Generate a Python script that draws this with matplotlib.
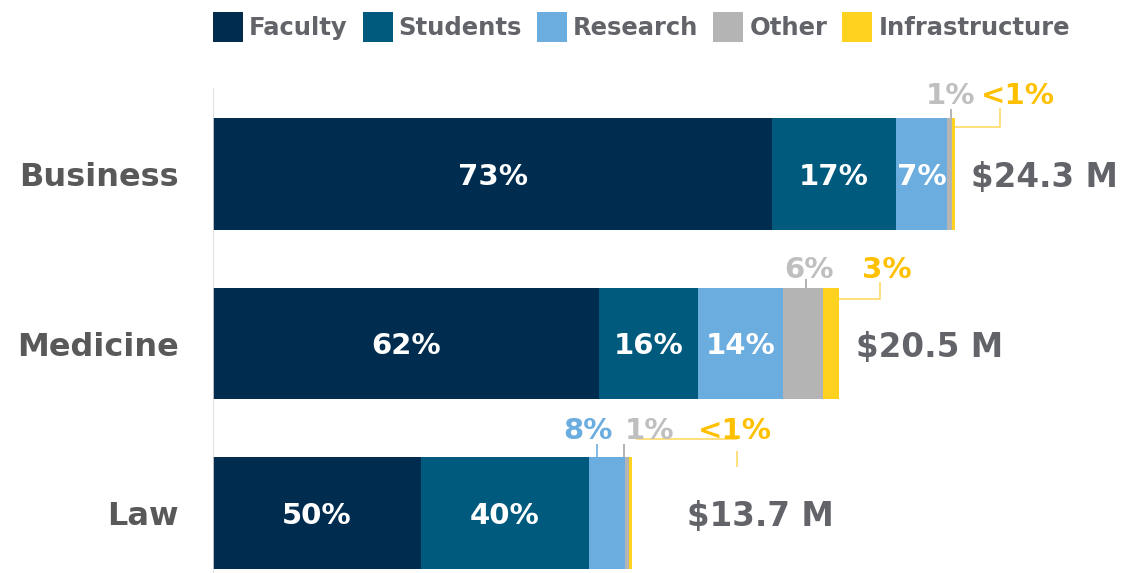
"""
Spending breakdown by school: stacked horizontal bars scaled to total budget,
with share labels inside the bars and call-outs for the thin segments.
"""

import matplotlib.pyplot as plt
from matplotlib.patches import Patch

# ── Data ──────────────────────────────────────────────────────────────────────
CATEGORIES = ["Business", "Medicine", "Law"]
TOTALS = [24.3, 20.5, 13.7]            # $ millions
TOTAL_LABELS = ["$24.3 M", "$20.5 M", "$13.7 M"]

SERIES = ["Faculty", "Students", "Research", "Other", "Infrastructure"]
# share of each school's total (%)
SHARES = {
    "Faculty":        [75.3, 61.7, 49.6],
    "Students":       [16.7, 15.7, 40.2],
    "Research":       [6.9, 13.6, 8.6],
    "Other":          [0.7, 6.4, 0.9],
    "Infrastructure": [0.4, 2.6, 0.7],
}
# printed labels
SHARE_LABELS = {
    "Faculty":        ["73%", "62%", "50%"],
    "Students":       ["17%", "16%", "40%"],
    "Research":       ["7%", "14%", "8%"],
    "Other":          ["1%", "6%", "1%"],
    "Infrastructure": ["<1%", "3%", "<1%"],
}

# ── Visual constants ──────────────────────────────────────────────────────────
COLORS = {
    "Faculty":        "#002D4F",
    "Students":       "#005A7D",
    "Research":       "#6CADDF",
    "Other":          "#B4B4B4",
    "Infrastructure": "#FFD21F",
}
CALLOUT_TEXT = {"Research": "#6CADDF", "Other": "#BFBFBF", "Infrastructure": "#FFC000"}
CALLOUT_LINE = {"Research": "#6CADDF", "Other": "#A6A6A6", "Infrastructure": "#FFD966"}
TEXT_GRAY = "#636469"
CAT_GRAY = "#595959"

W, H = 1125, 573
AX_LEFT_PX = 213
PX_PER_M = 30.55          # horizontal pixels per $1M
ROW_PX = 169.5            # vertical distance between bars
FIRST_ROW_PX = 174        # centre of the first bar from the top
BAR_H = 0.66

TOTAL_PAD_PX = [16, 17, 55]

# call-outs for segments too thin for an inside label:
# (category, series) -> anchor, polylines in px offsets (x right, y down), text offset
CALLOUTS = {
    ("Business", "Other"):          ("mid", [[(1, 0), (1, -9)]], (1, -25)),
    ("Business", "Infrastructure"): ("end", [[(0, 9), (45, 9), (45, -10)]], (63, -25)),
    ("Medicine", "Other"):          ("mid", [[(3, 0), (3, -9)]], (6, -21)),
    ("Medicine", "Infrastructure"): ("end", [[(0, 11), (41, 11), (41, -6)]], (48, -21)),
    ("Law", "Research"):            ("mid", [[(-10, 0), (-10, -13)]], (-19, -29)),
    ("Law", "Other"):               ("mid", [[(-3, 0), (-3, -13)]], (23, -29)),
    ("Law", "Infrastructure"):      ("end", [[(4, -18), (105, -18)], [(105, -6), (105, 10)]],
                                     (103, -29)),
}

plt.rcParams["font.family"] = "DejaVu Sans"


def dx(px):
    return px / PX_PER_M


def dy(px):
    return px / ROW_PX


fig = plt.figure(figsize=(W / 100, H / 100), dpi=100)
ax = fig.add_axes([AX_LEFT_PX / W, 0, 1 - AX_LEFT_PX / W, 1])
ax.set_xlim(0, dx(W - AX_LEFT_PX))
ax.set_ylim(dy(H - FIRST_ROW_PX), -dy(FIRST_ROW_PX))
for s in ax.spines.values():
    s.set_visible(False)
ax.set_xticks([])

ys = list(range(len(CATEGORIES)))
ax.set_yticks(ys, CATEGORIES, fontsize=23, fontweight="bold", color=CAT_GRAY)
ax.tick_params(axis="y", length=0, pad=24.5)

# thin baseline
ax.vlines(0, -dy(86), dy(H - FIRST_ROW_PX), color="#D9D9D9", linewidth=1.2)

for i, cat in enumerate(CATEGORIES):
    left = 0.0
    top = ys[i] - BAR_H / 2
    for ser in SERIES:
        width = TOTALS[i] * SHARES[ser][i] / 100
        ax.barh(ys[i], width, left=left, height=BAR_H, color=COLORS[ser], linewidth=0)
        key = (cat, ser)
        if key in CALLOUTS:
            anchor, paths, (tx, ty) = CALLOUTS[key]
            ax0 = left + width / 2 if anchor == "mid" else TOTALS[i]
            for path in paths:
                ax.plot([ax0 + dx(p[0]) for p in path], [top + dy(p[1]) for p in path],
                        color=CALLOUT_LINE[ser], linewidth=1.2, solid_capstyle="butt")
            ax.text(ax0 + dx(tx), top + dy(ty), SHARE_LABELS[ser][i],
                    ha="center", va="center_baseline", fontsize=21, fontweight="bold",
                    color=CALLOUT_TEXT[ser])
        else:
            ax.text(left + width / 2, ys[i], SHARE_LABELS[ser][i],
                    ha="center", va="center_baseline", fontsize=21, fontweight="bold",
                    color="white")
        left += width

    ax.text(TOTALS[i] + dx(TOTAL_PAD_PX[i]), ys[i], TOTAL_LABELS[i],
            ha="left", va="center_baseline", fontsize=23.5, fontweight="bold",
            color=TEXT_GRAY)

handles = [Patch(facecolor=COLORS[s], edgecolor="none") for s in SERIES]
fig.legend(handles, SERIES, loc="upper left",
           bbox_to_anchor=(AX_LEFT_PX / W, 1 - 12 / H),
           ncol=5, frameon=False, borderpad=0, borderaxespad=0,
           handlelength=1.23, handleheight=1.52, handletextpad=0.25,
           columnspacing=0.62, labelcolor=TEXT_GRAY,
           prop={"size": 17.5, "weight": "bold"})

fig.savefig("out.png", dpi=100)
